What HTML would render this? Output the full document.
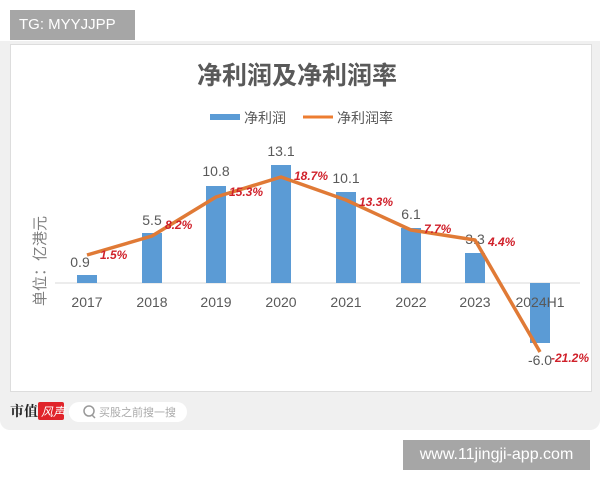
<!DOCTYPE html>
<html><head><meta charset="utf-8"><style>
body{margin:0;width:600px;height:480px;background:#fff;overflow:hidden;position:relative;font-family:"Liberation Sans","Noto Sans CJK SC",sans-serif}
.bg{position:absolute;left:0;top:41px;width:600px;height:389px;background:#f0f0f0;border-radius:0 0 10px 10px}
.card{position:absolute;left:10px;top:44px;width:582px;height:348px;background:#fff;border:1px solid #ddd;box-sizing:border-box}
.wm1{position:absolute;left:10px;top:10px;width:125px;height:30px;background:#a6a6a6;color:#fff;font-size:15px;line-height:30px;padding-left:9px;box-sizing:border-box}
.wm2{position:absolute;left:403px;top:440px;width:187px;height:30px;background:#a6a6a6;color:#fff;font-size:16px;line-height:30px;text-align:center}
svg{position:absolute;left:0;top:0}
</style></head><body>
<div class="bg"></div><div class="card"></div>
<div class="wm1">TG: MYYJJPP</div>
<svg width="600" height="480">
<text x="297" y="84" text-anchor="middle" font-size="25" font-weight="bold" fill="#595959" font-family="Noto Sans CJK SC,sans-serif">净利润及净利润率</text>
<rect x="210" y="114" width="30" height="6" fill="#5b9bd5"/>
<text x="244" y="123" font-size="14" fill="#595959" font-family="Noto Sans CJK SC,sans-serif">净利润</text>
<line x1="303" y1="117" x2="333" y2="117" stroke="#ed7d31" stroke-width="3"/>
<text x="337" y="123" font-size="14" fill="#595959" font-family="Noto Sans CJK SC,sans-serif">净利润率</text>
<line x1="55" y1="283" x2="580" y2="283" stroke="#d9d9d9" stroke-width="1"/>
<g fill="#5b9bd5">
<rect x="77" y="275" width="20" height="8"/>
<rect x="142" y="233" width="20" height="50"/>
<rect x="206" y="186" width="20" height="97"/>
<rect x="271" y="165" width="20" height="118"/>
<rect x="336" y="192" width="20" height="91"/>
<rect x="401" y="228" width="20" height="55"/>
<rect x="465" y="253" width="20" height="30"/>
<rect x="530" y="283" width="20" height="60"/>
</g>
<g font-size="14" fill="#595959" text-anchor="middle">
<text x="87" y="307">2017</text><text x="152" y="307">2018</text><text x="216" y="307">2019</text><text x="281" y="307">2020</text><text x="346" y="307">2021</text><text x="411" y="307">2022</text><text x="475" y="307">2023</text><text x="540" y="307">2024H1</text>
<text x="80" y="267">0.9</text><text x="152" y="225">5.5</text><text x="216" y="176">10.8</text><text x="281" y="156">13.1</text><text x="346" y="183">10.1</text><text x="411" y="219">6.1</text><text x="475" y="244">3.3</text><text x="540" y="365">-6.0</text>
</g>
<polyline points="87,255 152,236 216,197 281,177 346,200 411,230 475,240 540,352" fill="none" stroke="#e07a36" stroke-width="3.5" stroke-linejoin="round"/>
<g font-size="12" font-weight="bold" font-style="italic" fill="#d0202a">
<text x="100" y="259">1.5%</text><text x="165" y="229">8.2%</text><text x="229" y="196">15.3%</text><text x="294" y="180">18.7%</text><text x="359" y="206">13.3%</text><text x="424" y="233">7.7%</text><text x="488" y="246">4.4%</text><text x="551" y="362">-21.2%</text>
</g>
<text transform="translate(45,306) rotate(-90)" font-size="15" fill="#7f7f7f" font-family="Noto Sans CJK SC,sans-serif">单位：亿港元</text>
<text x="10" y="416" font-size="14" font-weight="bold" fill="#222" font-family="Noto Serif CJK SC,serif">市值</text>
<rect x="38" y="402" width="26" height="18" rx="2" fill="#e0242a"/>
<text x="41" y="416" font-size="12" font-style="italic" fill="#fff" font-family="Noto Sans CJK SC,sans-serif">风声</text>
<rect x="69" y="402" width="118" height="20" rx="10" fill="#fff"/>
<circle cx="89" cy="411" r="5" fill="none" stroke="#999" stroke-width="1.5"/><line x1="92" y1="415" x2="95" y2="418" stroke="#999" stroke-width="1.5"/>
<text x="99" y="416" font-size="11" fill="#aaa" font-family="Noto Sans CJK SC,sans-serif">买股之前搜一搜</text>
</svg>
<div class="wm2">www.11jingji-app.com</div>
</body></html>
